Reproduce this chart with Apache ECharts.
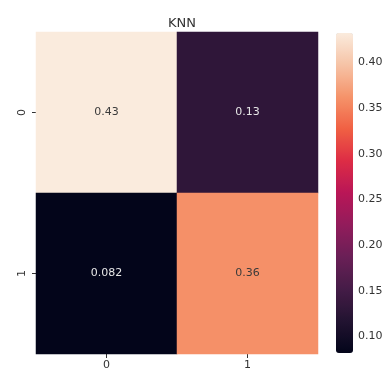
<!DOCTYPE html>
<html>
<head>
<meta charset="utf-8">
<script src="https://cdn.jsdelivr.net/npm/echarts@6/dist/echarts.min.js"></script>
<style>
	html,body{margin:0;padding:0;background:#fff;}
	#knnContainer{width:390px;height:375px;}
</style>
</head>
<body>
<div id="knnContainer"></div>
<script>
var xLabels = ['0','1'];
var yLabels = ['0','1'];
// [col, row, value]
var cellValues = [
	[0, 0, 0.432],
	[1, 0, 0.13],
	[0, 1, 0.082],
	[1, 1, 0.36]
];
var colorbarTicks = [0.10, 0.15, 0.20, 0.25, 0.30, 0.35, 0.40];
var rocket = ['#03051a','#221331','#451c47','#6a1f56','#921c5b','#b91657','#dd2c45','#f06043','#f5936a','#f6c3a6','#faebdd'];

var vMin = Math.min.apply(null, cellValues.map(function(d){return d[2];}));
var vMax = Math.max.apply(null, cellValues.map(function(d){return d[2];}));

var myChart = echarts.init(document.getElementById('knnContainer'));
var option = {
	backgroundColor : '#fff',
	textStyle : { fontFamily : 'DejaVu Sans' },
	title : {
		text : 'KNN',
		left : 177,
		top : 12,
		textAlign : 'center',
		textStyle : { color : '#333', fontSize : 13, fontWeight : 'normal', fontFamily : 'DejaVu Sans' }
	},
	grid : [
		{ left : 36, top : 32, width : 282, height : 322 },
		{ left : 336, top : 33, width : 17, height : 320 }
	],
	xAxis : [{
		type : 'category',
		gridIndex : 0,
		data : xLabels,
		axisLine : { show : false },
		axisTick : { show : true, alignWithLabel : true, length : 4, lineStyle : { color : '#333' } },
		axisLabel : { color : '#333', fontSize : 11, margin : 6 },
		splitArea : { show : false }
	},{
		type : 'value',
		gridIndex : 1,
		show : false
	}],
	yAxis : [{
		type : 'category',
		gridIndex : 0,
		inverse : true,
		data : yLabels,
		axisLine : { show : false },
		axisTick : { show : true, alignWithLabel : true, length : 4, lineStyle : { color : '#333' } },
		axisLabel : { color : '#333', fontSize : 11, rotate : 90, margin : 8 }
	},{
		type : 'value',
		gridIndex : 1,
		position : 'right',
		min : vMin,
		max : vMax,
		axisLine : { show : false },
		splitLine : { show : false },
		axisTick : { show : true, length : 4, customValues : colorbarTicks, lineStyle : { color : '#333' } },
		axisLabel : {
			color : '#333', fontSize : 11, margin : 5,
			customValues : colorbarTicks,
			formatter : function(v){ return v.toFixed(2); }
		}
	}],
	visualMap : {
		type : 'continuous',
		seriesIndex : 0,
		min : vMin,
		max : vMax,
		calculable : false,
		orient : 'vertical',
		left : 336,
		top : 33,
		itemWidth : 17,
		itemHeight : 320,
		padding : 0,
		text : null,
		inRange : { color : rocket }
	},
	series : [{
		type : 'heatmap',
		xAxisIndex : 0,
		yAxisIndex : 0,
		data : cellValues,
		label : {
			show : true,
			fontSize : 11,
			formatter : function(p){ return Number(p.value[2].toPrecision(2)).toString(); },
			color : '#eee'
		},
		emphasis : { disabled : true }
	}]
};
// dark text on light cells, light text on dark cells
option.series[0].data = cellValues.map(function(d){
	return { value : d, label : { color : d[2] > 0.3 ? '#3a3a3a' : '#e6e6e6' } };
});
myChart.setOption(option);
</script>
</body>
</html>
